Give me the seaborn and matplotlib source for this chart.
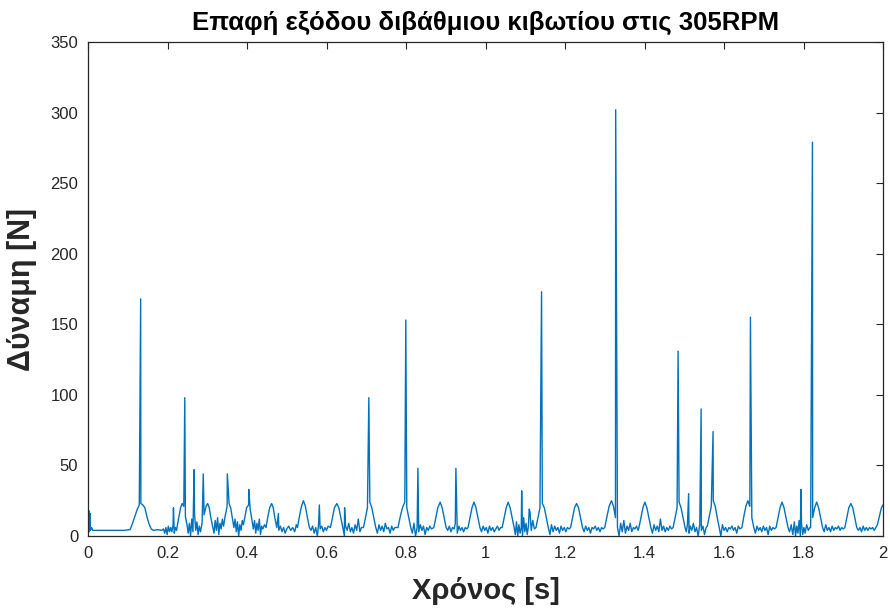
import numpy as np
import matplotlib
matplotlib.use("Agg")
import matplotlib.pyplot as plt
import seaborn as sns
from matplotlib import font_manager

# ---------------- data ----------------
title = "Επαφή εξόδου διβάθμιου κιβωτίου στις 305RPM"
xlabel = "Χρόνος [s]"
ylabel = "Δύναμη [N]"
xticks = [0, 0.2, 0.4, 0.6, 0.8, 1, 1.2, 1.4, 1.6, 1.8, 2]
xtick_labels = ["0", "0.2", "0.4", "0.6", "0.8", "1", "1.2", "1.4", "1.6", "1.8", "2"]
yticks = [0, 50, 100, 150, 200, 250, 300, 350]

# base signal (time [s], force [N]) – segment 0 ... 0.21 s
seg_a = [(0.000, 3), (0.002, 18), (0.003, 3), (0.005, 16), (0.006, 4), (0.009, 6),
         (0.012, 4), (0.030, 4), (0.060, 4), (0.090, 4), (0.106, 4.5),
         (0.112, 9), (0.118, 14), (0.124, 19), (0.129, 22), (0.133, 23), (0.138, 22),
         (0.143, 20), (0.148, 14), (0.153, 9), (0.159, 5),
         (0.165, 4), (0.175, 4.5), (0.185, 4), (0.190, 5), (0.193, 2), (0.196, 6),
         (0.199, 1), (0.202, 7), (0.205, 3), (0.208, 6)]

# segment 0.21 ... 0.5 s
seg_b = [(0.211, 3), (0.214, 8), (0.217, 2), (0.220, 6), (0.223, 4),
         (0.225, 8), (0.229, 14), (0.233, 20), (0.237, 23), (0.241, 21), (0.245, 14), (0.249, 8),
         (0.252, 2), (0.255, 9), (0.258, 0), (0.261, 12), (0.264, 3), (0.268, 16), (0.271, 4),
         (0.274, 10), (0.277, 1), (0.280, 7), (0.283, 3),
         (0.287, 9), (0.292, 15), (0.297, 21), (0.301, 23), (0.305, 20), (0.309, 13), (0.314, 6),
         (0.317, 2), (0.320, 11), (0.323, 4), (0.326, 13), (0.329, 1), (0.332, 9), (0.335, 5),
         (0.338, 12),
         (0.341, 7), (0.345, 14), (0.350, 21), (0.355, 23), (0.359, 20), (0.363, 13), (0.367, 6),
         (0.370, 12), (0.373, 3), (0.376, 10), (0.379, 0), (0.382, 8), (0.385, 4), (0.388, 11),
         (0.391, 8), (0.395, 14), (0.399, 20), (0.404, 22), (0.408, 19), (0.412, 12), (0.416, 5),
         (0.419, 11), (0.422, 2), (0.425, 9), (0.428, 4), (0.431, 12), (0.434, 1), (0.437, 7),
         (0.440, 5), (0.444, 8),
         (0.448, 6), (0.452, 13), (0.457, 20), (0.462, 23), (0.466, 20), (0.470, 13), (0.475, 6),
         (0.480, 4), (0.484, 7), (0.488, 3), (0.492, 6), (0.496, 2), (0.500, 5)]

# segment 0.5 ... 1.0 s
seg_c = [(0.505, 7), (0.510, 4), (0.515, 6), (0.520, 3), (0.524, 8),
         (0.527, 6), (0.532, 14), (0.537, 21), (0.542, 25), (0.547, 21), (0.552, 13), (0.557, 6),
         (0.561, 4), (0.565, 7), (0.569, 2), (0.573, 6), (0.577, 0), (0.580, 8), (0.584, 5),
         (0.588, 7), (0.592, 3), (0.596, 6), (0.600, 4), (0.604, 7),
         (0.610, 6), (0.615, 13), (0.620, 20), (0.626, 23), (0.631, 20), (0.636, 13), (0.641, 6),
         (0.645, 0), (0.648, 7), (0.652, 4), (0.656, 9), (0.660, 3), (0.664, 6), (0.668, 2),
         (0.672, 8), (0.676, 4), (0.680, 12), (0.684, 3), (0.688, 6),
         (0.693, 6), (0.698, 13), (0.703, 20), (0.709, 24), (0.714, 20), (0.719, 13), (0.724, 6),
         (0.728, 2), (0.732, 8), (0.736, 4), (0.740, 7), (0.744, 3), (0.748, 9), (0.752, 5),
         (0.756, 6), (0.760, 2), (0.764, 7), (0.768, 4), (0.772, 6),
         (0.780, 6), (0.785, 13), (0.791, 20), (0.797, 24), (0.802, 20), (0.807, 13), (0.812, 6),
         (0.816, 2), (0.820, 9), (0.824, 0), (0.828, 6), (0.832, 3), (0.836, 8), (0.840, 4),
         (0.844, 7), (0.848, 1), (0.852, 6), (0.856, 4), (0.860, 7), (0.864, 5),
         (0.870, 6), (0.875, 13), (0.880, 20), (0.886, 24), (0.891, 20), (0.896, 13), (0.901, 6),
         (0.905, 4), (0.909, 7), (0.913, 3), (0.917, 6), (0.921, 5), (0.924, 9), (0.929, 2),
         (0.933, 7), (0.937, 4), (0.941, 6), (0.945, 3), (0.949, 6), (0.953, 5),
         (0.956, 6), (0.961, 13), (0.966, 20), (0.971, 24), (0.976, 20), (0.981, 13), (0.986, 6),
         (0.990, 3), (0.994, 7), (0.998, 4)]

# segment 1.0 ... 1.5 s
seg_d = [(1.002, 6), (1.006, 2), (1.010, 7), (1.014, 4), (1.018, 6), (1.022, 3), (1.026, 5),
         (1.030, 7), (1.034, 4), (1.038, 6),
         (1.042, 6), (1.047, 13), (1.052, 20), (1.057, 24), (1.062, 20), (1.067, 13), (1.072, 6),
         (1.075, 1), (1.078, 10), (1.081, 0), (1.084, 8), (1.087, 2), (1.090, 6), (1.093, 0),
         (1.096, 13), (1.099, 3), (1.102, 9), (1.105, 1), (1.108, 7), (1.112, 17), (1.115, 4),
         (1.119, 11), (1.123, 5),
         (1.127, 6), (1.132, 13), (1.137, 20), (1.143, 23), (1.148, 20), (1.153, 13), (1.158, 6),
         (1.162, 1), (1.166, 8), (1.170, 3), (1.174, 7), (1.178, 4), (1.182, 6), (1.186, 2),
         (1.190, 7), (1.194, 4), (1.198, 6), (1.202, 3), (1.206, 6), (1.210, 5),
         (1.214, 6), (1.219, 13), (1.224, 20), (1.229, 23), (1.234, 20), (1.239, 13), (1.244, 6),
         (1.248, 3), (1.252, 7), (1.256, 4), (1.260, 6), (1.264, 2), (1.268, 6), (1.272, 5),
         (1.276, 7), (1.280, 4), (1.284, 6), (1.288, 3), (1.292, 6), (1.296, 5),
         (1.300, 6), (1.305, 13), (1.311, 21), (1.317, 25), (1.322, 21), (1.327, 13), (1.332, 6),
         (1.336, 0), (1.340, 9), (1.344, 3), (1.348, 11), (1.352, 2), (1.356, 7), (1.360, 4),
         (1.364, 9), (1.368, 3), (1.372, 6), (1.376, 5), (1.380, 7), (1.384, 4),
         (1.386, 6), (1.391, 13), (1.396, 20), (1.401, 24), (1.406, 20), (1.411, 13), (1.416, 6),
         (1.420, 2), (1.424, 8), (1.428, 4), (1.432, 7), (1.436, 3), (1.440, 12), (1.444, 4),
         (1.448, 7), (1.452, 3), (1.456, 6), (1.460, 4), (1.464, 7), (1.468, 5),
         (1.472, 6), (1.477, 13), (1.482, 20), (1.487, 24), (1.492, 20), (1.497, 13), (1.502, 6)]

# segment 1.5 ... 2.0 s
seg_e = [(1.505, 3), (1.508, 8), (1.512, 2), (1.515, 7), (1.519, 4), (1.523, 9), (1.527, 3),
         (1.531, 6), (1.535, 0), (1.539, 8), (1.543, 4), (1.547, 7), (1.551, 1), (1.555, 6),
         (1.558, 7), (1.563, 14), (1.568, 21), (1.573, 25), (1.578, 21), (1.583, 13), (1.588, 6),
         (1.592, 0), (1.596, 8), (1.600, 4), (1.604, 6), (1.608, 3), (1.612, 6), (1.616, 5),
         (1.620, 7), (1.624, 4), (1.628, 6), (1.632, 2), (1.636, 7), (1.640, 5),
         (1.645, 6), (1.650, 14), (1.655, 21), (1.660, 25), (1.665, 21), (1.670, 13), (1.675, 6),
         (1.679, 2), (1.683, 7), (1.687, 4), (1.691, 6), (1.695, 3), (1.699, 7), (1.703, 4),
         (1.707, 6), (1.711, 1), (1.715, 7), (1.719, 4), (1.723, 6), (1.727, 5),
         (1.731, 6), (1.736, 13), (1.741, 20), (1.746, 24), (1.751, 20), (1.756, 13), (1.761, 6),
         (1.765, 3), (1.769, 8), (1.773, 1), (1.777, 10), (1.780, 0), (1.783, 7), (1.786, 2),
         (1.789, 11), (1.792, 0), (1.795, 9), (1.798, 1), (1.801, 6), (1.804, 2), (1.808, 8),
         (1.812, 4), (1.816, 6),
         (1.818, 6), (1.823, 13), (1.828, 20), (1.833, 24), (1.838, 20), (1.843, 13), (1.848, 6),
         (1.852, 3), (1.856, 8), (1.860, 4), (1.864, 6), (1.868, 3), (1.872, 7), (1.876, 4),
         (1.880, 6), (1.884, 5), (1.888, 7), (1.892, 4), (1.896, 6), (1.900, 5),
         (1.904, 6), (1.909, 13), (1.914, 20), (1.919, 23), (1.924, 20), (1.929, 13), (1.934, 6),
         (1.938, 4), (1.942, 6), (1.946, 3), (1.950, 7), (1.954, 4), (1.958, 6), (1.962, 4),
         (1.966, 6), (1.970, 5), (1.974, 6), (1.978, 4), (1.982, 6),
         (1.986, 8), (1.991, 14), (1.996, 20), (2.000, 22)]

# impact spikes (time [s], peak force [N])
spikes = [(0.1325, 168), (0.2150, 20), (0.2435, 98), (0.2670, 47), (0.2900, 44),
          (0.3505, 44), (0.4045, 33), (0.4790, 16), (0.5820, 22), (0.6455, 20),
          (0.7065, 98), (0.7995, 153), (0.8300, 48), (0.9255, 48), (1.0910, 32),
          (1.1100, 19), (1.1410, 173), (1.3275, 302), (1.4845, 131), (1.5110, 30),
          (1.5425, 90), (1.5725, 74), (1.6665, 155), (1.7935, 33), (1.8225, 279)]

# ---------------- assemble ----------------
pts = np.array(seg_a + seg_b + seg_c + seg_d + seg_e + spikes, dtype=float)
order = np.argsort(pts[:, 0], kind="stable")
t = pts[order, 0]
f = pts[order, 1]

# ---------------- style ----------------
sns.set_style("white")
names = {fe.name for fe in font_manager.fontManager.ttflist}
fam = "Liberation Sans Narrow" if "Liberation Sans Narrow" in names else "Liberation Sans"
plt.rcParams["font.family"] = [fam, "DejaVu Sans"]
txt_color = "#262626"

fig = plt.figure(figsize=(8.9, 6.12), dpi=100)
ax = fig.add_axes([88 / 890, 1 - 536 / 612, (883 - 88) / 890, (536 - 42) / 612])

sns.lineplot(x=t, y=f, ax=ax, color="#0072BD", linewidth=1.0,
             estimator=None, sort=False)

ax.set_xlim(0, 2)
ax.set_ylim(0, 350)
ax.set_xticks(xticks)
ax.set_xticklabels(xtick_labels)
ax.set_yticks(yticks)
ax.tick_params(direction="in", length=5, width=0.8, top=True, right=True,
               labelsize=12, colors=txt_color, pad=7)
ax.tick_params(axis="both", labelcolor=txt_color)
for s in ax.spines.values():
    s.set_visible(True)
    s.set_color(txt_color)
    s.set_linewidth(0.9)

ax.set_title(title, fontsize=18.5, fontweight="bold", color="#000000", pad=9)
ax.set_xlabel(xlabel, fontsize=21, fontweight="bold", color="#262626", labelpad=12)
ax.set_ylabel(ylabel, fontsize=22, fontweight="bold", color="#262626", labelpad=10)

fig.savefig("out.png", dpi=100)
